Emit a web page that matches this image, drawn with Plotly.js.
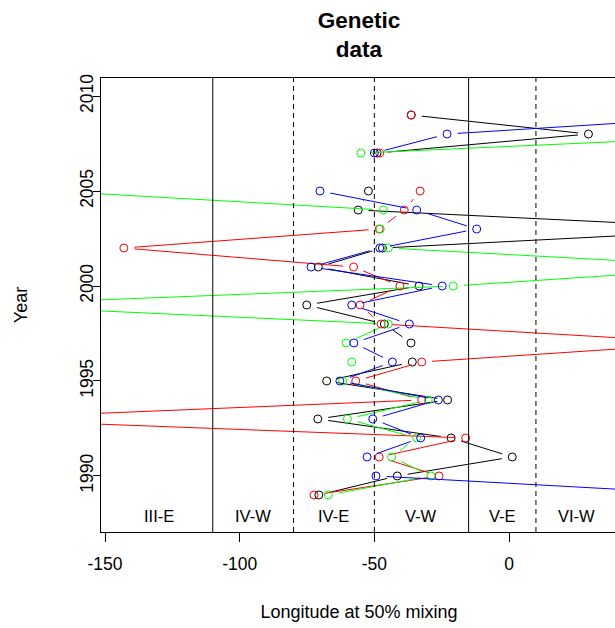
<!DOCTYPE html>
<html>
<head>
<meta charset="utf-8">
<script src="https://cdn.plot.ly/plotly-3.0.1.min.js"></script>
<style>
html, body { margin: 0; padding: 0; overflow: hidden; background: #fff; }
#chart { width: 617px; height: 628px; }
</style>
</head>
<body>
<div id="chart"></div>
<script>
// ---- data ----
const years = [1989,1990,1991,1992,1993,1994,1995,1996,1997,1998,1999,2000,2001,2002,2003,2004,2005,2006,2007,2008,2009];
const blackSeries = [-70.6,-41.5,1.2,-21.5,-71,-22.8,-67.7,-35.9,-36.4,-46.3,-75.1,-33.4,-70.8,-47,90,-56,-52.2,null,-49,29.5,-36.3];
const redSeries   = [-72.4,-26,-48.2,-16.1,-203,-32.4,-56.9,-32.4,74,-47.5,-55.3,-40.5,-57.7,-143,-48.2,-38.9,-33,null,-48,null,-36.3];
const greenSeries = [-67.1,-29,-43.6,-34.3,-60,-30,-61.8,-58.4,-60.5,-44.8,-200,-20.7,85,-44.8,-47.8,-46.7,-170,null,-55,103,null];
const blueSeries  = [79,-49.4,-52.7,-32.8,-50.6,-26.2,-62.8,-43.3,-57.6,-37,-58.4,-24.8,-73.5,-48,-12,-34.3,-70.2,null,-50,-23,89];
const boundaries = [-110,-80,-50,-15,10];
const boundaryDashed = [false,true,true,false,true];
const regionNames = ["III-E","IV-W","IV-E","V-W","V-E","VI-W"];
const regionCenters = [-130,-95,-65,-32.5,-2.5,25];
const regionLabelYear = 1987.9;
const xTicks = [-150,-100,-50,0,50];
const xTickLabels = ["-150","-100","-50","0","50"];
const yTicks = [1990,1995,2000,2005,2010];

// ---- layout geometry ----
const W = 617, H = 628;
const M = {l:101, r:0, t:78, b:96};
const xRange = [-151.5, 40.1];
const yRange = [1987.05, 2010.95];
const PW = W - M.l - M.r, PH = H - M.t - M.b;
const GAP = 10.5; // px gap around points (R type="b")

function toPx(x, y) {
  return [(x - xRange[0]) / (xRange[1] - xRange[0]) * PW,
          (y - yRange[0]) / (yRange[1] - yRange[0]) * PH];
}
function toData(px, py) {
  return [xRange[0] + px / PW * (xRange[1] - xRange[0]),
          yRange[0] + py / PH * (yRange[1] - yRange[0])];
}
function gappedSegments(xs, ys) {
  const sx = [], sy = [];
  for (let i = 0; i < xs.length - 1; i++) {
    if (xs[i] == null || xs[i+1] == null) continue;
    const a = toPx(xs[i], ys[i]), b = toPx(xs[i+1], ys[i+1]);
    const dx = b[0]-a[0], dy = b[1]-a[1], d = Math.hypot(dx, dy);
    if (d <= 2*GAP) continue;
    const ux = dx/d, uy = dy/d;
    const p = toData(a[0]+ux*GAP, a[1]+uy*GAP);
    const q = toData(b[0]-ux*GAP, b[1]-uy*GAP);
    sx.push(p[0], q[0], null); sy.push(p[1], q[1], null);
  }
  return [sx, sy];
}

const series = [
  {vals: blackSeries, color: "#000000"},
  {vals: redSeries,   color: "#FF0000"},
  {vals: greenSeries, color: "#00FF00"},
  {vals: blueSeries,  color: "#0000FF"}
];
const traces = [];
series.forEach(s => {
  const seg = gappedSegments(s.vals, years);
  traces.push({x: seg[0], y: seg[1], type: "scatter", mode: "lines",
    line: {color: s.color, width: 1}, connectgaps: false, hoverinfo: "skip", showlegend: false});
  traces.push({x: s.vals, y: years, type: "scatter", mode: "markers",
    marker: {symbol: "circle-open", size: 8, color: s.color, line: {width: 1, color: s.color}},
    showlegend: false});
});

const shapes = boundaries.map((b, i) => ({
  type: "line", xref: "x", yref: "paper", x0: b, x1: b, y0: 0, y1: 1,
  line: {color: "#000", width: 1, dash: boundaryDashed[i] ? "5px,4px" : "solid"}
}));

const annotations = regionNames.map((n, i) => ({
  x: regionCenters[i], y: regionLabelYear, xref: "x", yref: "y", text: n,
  showarrow: false, font: {size: 16.5, color: "#000"}
}));

const FONT = "Arial, 'Liberation Sans', sans-serif";
const layout = {
  width: W, height: H, margin: M,
  paper_bgcolor: "#fff", plot_bgcolor: "#fff",
  font: {family: FONT, color: "#000", size: 18},
  title: {text: "<b>Genetic<br>data</b>", font: {size: 22.5, family: FONT, color: "#000"},
          x: 0.5, xref: "paper", y: 1 - 28/628, yref: "container", yanchor: "middle"},
  xaxis: {range: xRange, tickvals: xTicks, ticktext: xTickLabels, ticks: "outside", ticklen: 9, tickcolor: "#000",
          showline: true, mirror: true, linecolor: "#000", linewidth: 1,
          showgrid: false, zeroline: false, tickfont: {size: 17.5}, ticklabelstandoff: 7,
          title: {text: "Longitude at 50% mixing", font: {size: 18}, standoff: 32}},
  yaxis: {range: yRange, tickvals: yTicks, ticks: "outside", ticklen: 7, tickcolor: "#000",
          tickangle: -90, showline: true, mirror: true, linecolor: "#000", linewidth: 1,
          showgrid: false, zeroline: false, tickfont: {size: 17.5}, ticklabelstandoff: -7,
          title: {text: "Year", font: {size: 18}, standoff: 44}},
  shapes: shapes, annotations: annotations, hovermode: false
};
Plotly.newPlot("chart", traces, layout, {staticPlot: true, displayModeBar: false});
</script>
</body>
</html>
